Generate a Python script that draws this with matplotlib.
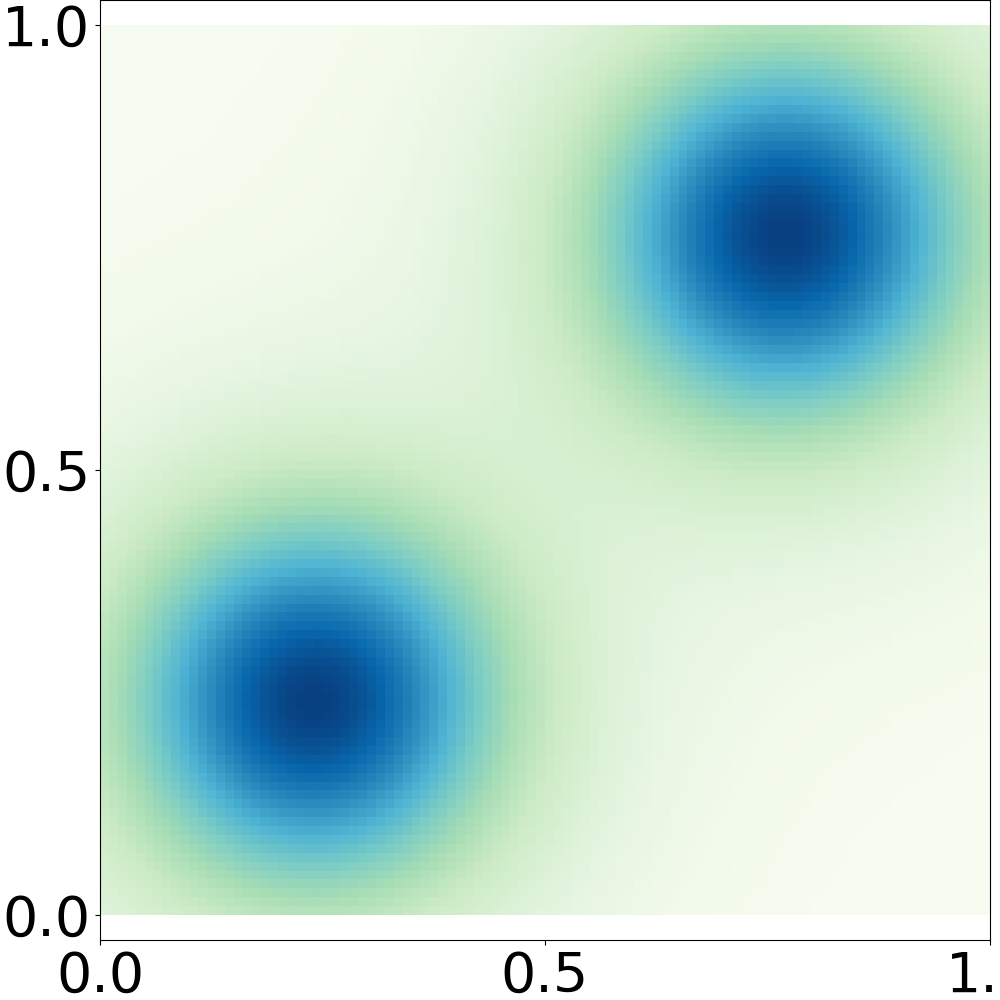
import numpy as np
import matplotlib
matplotlib.use("Agg")
import matplotlib.pyplot as plt

# grid resolution (cells per side)
n_cells = 100

# two bumps: centres and width
bump_x = [0.24, 0.77]
bump_y = [0.24, 0.765]
bump_width = 0.48
bump_power = 5

tick_vals = [0.0, 0.5, 1.0]
tick_labels = ["0.0", "0.5", "1.0"]

edges = np.linspace(0, 1, n_cells + 1)
centres = (edges[:-1] + edges[1:]) / 2
X, Y = np.meshgrid(centres, centres)

Z = np.zeros_like(X)
for bx, by in zip(bump_x, bump_y):
    r2 = (X - bx) ** 2 + (Y - by) ** 2
    Z += 1.0 / (1.0 + r2 / bump_width ** 2) ** bump_power

fig = plt.figure(figsize=(10, 10), dpi=100)
ax = fig.add_axes([0.1, 0.06, 0.89, 0.94])

ax.pcolormesh(edges, edges, Z, cmap="GnBu", shading="flat")

ax.set_xlim(0, 1)
ax.set_ylim(-0.028, 1.028)
ax.set_xticks(tick_vals)
ax.set_xticklabels(tick_labels)
ax.set_yticks(tick_vals)
ax.set_yticklabels(tick_labels)
ax.tick_params(labelsize=40)

fig.savefig("out.png", dpi=100)
